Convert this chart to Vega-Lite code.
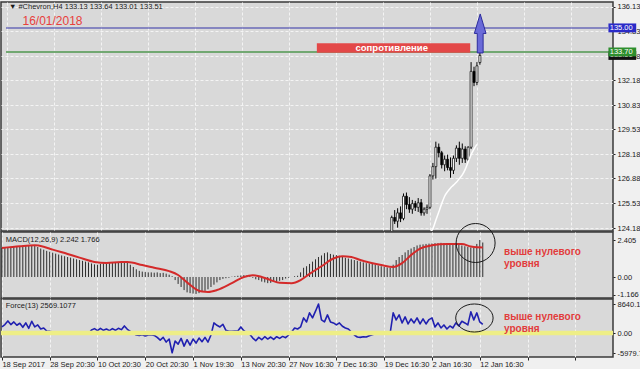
{
  "$schema": "https://vega.github.io/schema/vega-lite/v6.json",
  "background": "#f0f0f0",
  "padding": {"left": 0, "top": 1, "right": 0, "bottom": 0},
  "bounds": "flush",
  "spacing": 1,
  "resolve": {"scale": {"x": "independent", "y": "independent"}},
  "config": {
    "view": {"fill": "#d9d9d9", "stroke": "#3a3a3a", "strokeWidth": 1.5},
    "axis": {"labelFont": "Liberation Sans", "labelFontSize": 7.5, "labelColor": "#1a1a1a", "gridColor": "#f4f4f4", "gridDash": [3, 2], "gridWidth": 1, "tickColor": "#222222", "domain": false, "zindex": 0},
    "text": {"font": "Liberation Sans"}
  },
  "datasets": {
    "candles": [
      {"i":131,"o":123.7,"h":124.85,"l":123.5,"c":124.75},
      {"i":132,"o":124.75,"h":125.15,"l":124.4,"c":124.55},
      {"i":133,"o":124.55,"h":125.25,"l":124.2,"c":125.0},
      {"i":134,"o":125.0,"h":125.35,"l":124.5,"c":124.7},
      {"i":135,"o":124.7,"h":126.05,"l":124.6,"c":125.9},
      {"i":136,"o":125.9,"h":126.1,"l":125.2,"c":125.45},
      {"i":137,"o":125.45,"h":125.85,"l":125.0,"c":125.2},
      {"i":138,"o":125.2,"h":125.7,"l":124.95,"c":125.5},
      {"i":139,"o":125.5,"h":125.65,"l":125.1,"c":125.3},
      {"i":140,"o":125.3,"h":125.8,"l":125.05,"c":125.55},
      {"i":141,"o":125.55,"h":125.75,"l":124.85,"c":125.0},
      {"i":142,"o":125.0,"h":125.3,"l":124.85,"c":125.2},
      {"i":143,"o":125.2,"h":125.45,"l":124.95,"c":125.3},
      {"i":144,"o":125.3,"h":127.1,"l":125.2,"c":127.0},
      {"i":145,"o":127.0,"h":127.7,"l":126.8,"c":127.5},
      {"i":146,"o":127.5,"h":128.85,"l":126.85,"c":128.55},
      {"i":147,"o":128.55,"h":128.75,"l":128.0,"c":128.25},
      {"i":148,"o":128.25,"h":128.35,"l":127.4,"c":127.6},
      {"i":149,"o":127.6,"h":128.1,"l":127.25,"c":127.9},
      {"i":150,"o":127.9,"h":128.15,"l":127.3,"c":127.45},
      {"i":151,"o":127.45,"h":128.0,"l":126.9,"c":127.3},
      {"i":152,"o":127.3,"h":128.1,"l":127.1,"c":127.95},
      {"i":153,"o":127.95,"h":128.65,"l":127.75,"c":128.5},
      {"i":154,"o":128.5,"h":128.85,"l":127.6,"c":127.95},
      {"i":155,"o":127.95,"h":128.75,"l":127.7,"c":128.45},
      {"i":156,"o":128.45,"h":128.6,"l":127.7,"c":127.9},
      {"i":157,"o":127.9,"h":128.6,"l":127.8,"c":128.55},
      {"i":158,"o":128.55,"h":133.15,"l":128.45,"c":132.65},
      {"i":159,"o":132.65,"h":132.9,"l":131.85,"c":132.05},
      {"i":160,"o":132.05,"h":133.15,"l":131.9,"c":132.95},
      {"i":161,"o":133.13,"h":133.64,"l":133.01,"c":133.51}
    ],
    "ma": [
      {"i":143,"v":123.6},{"i":144,"v":123.9},{"i":145,"v":124.15},{"i":146,"v":124.6},{"i":147,"v":125.05},
      {"i":148,"v":125.5},{"i":149,"v":125.9},{"i":150,"v":126.15},{"i":151,"v":126.35},{"i":152,"v":126.5},
      {"i":153,"v":126.65},{"i":154,"v":126.85},{"i":155,"v":127.05},{"i":156,"v":127.35},{"i":157,"v":127.75},
      {"i":158,"v":128.15},{"i":159,"v":128.45},{"i":160,"v":128.7}
    ],
    "macd": [
      {"i":0,"h":1.88},{"i":1,"h":1.9},{"i":2,"h":1.92},{"i":3,"h":1.94},{"i":4,"h":1.96},{"i":5,"h":1.98},{"i":6,"h":2.0},{"i":7,"h":2.02},{"i":8,"h":2.03},{"i":9,"h":2.04},
      {"i":10,"h":2.04},{"i":11,"h":2.02},{"i":12,"h":1.95},{"i":13,"h":1.85},{"i":14,"h":1.78},{"i":15,"h":1.7},{"i":16,"h":1.64},{"i":17,"h":1.58},{"i":18,"h":1.52},{"i":19,"h":1.46},
      {"i":20,"h":1.4},{"i":21,"h":1.35},{"i":22,"h":1.3},{"i":23,"h":1.26},{"i":24,"h":1.2},{"i":25,"h":1.15},{"i":26,"h":1.1},{"i":27,"h":1.05},{"i":28,"h":1.0},{"i":29,"h":0.95},
      {"i":30,"h":0.88},{"i":31,"h":0.82},{"i":32,"h":0.8},{"i":33,"h":0.85},{"i":34,"h":0.9},{"i":35,"h":0.88},{"i":36,"h":0.92},{"i":37,"h":0.95},{"i":38,"h":0.92},{"i":39,"h":0.96},
      {"i":40,"h":1.0},{"i":41,"h":0.98},{"i":42,"h":0.95},{"i":43,"h":0.8},{"i":44,"h":0.65},{"i":45,"h":0.5},{"i":46,"h":0.4},{"i":47,"h":0.35},{"i":48,"h":0.32},{"i":49,"h":0.3},
      {"i":50,"h":0.3},{"i":51,"h":0.28},{"i":52,"h":0.3},{"i":53,"h":0.25},{"i":54,"h":0.27},{"i":55,"h":0.22},{"i":56,"h":0.15},{"i":57,"h":0.05},{"i":58,"h":-0.2},{"i":59,"h":-0.45},
      {"i":60,"h":-0.65},{"i":61,"h":-0.85},{"i":62,"h":-1.0},{"i":63,"h":-1.05},{"i":64,"h":-1.08},{"i":65,"h":-1.1},{"i":66,"h":-1.05},{"i":67,"h":-0.95},{"i":68,"h":-0.9},{"i":69,"h":-0.8},
      {"i":70,"h":-0.65},{"i":71,"h":-0.5},{"i":72,"h":-0.35},{"i":73,"h":-0.2},{"i":74,"h":-0.12},{"i":75,"h":-0.08},{"i":76,"h":-0.05},{"i":77,"h":0.02},{"i":78,"h":0.05},{"i":79,"h":0.08},
      {"i":80,"h":0.1},{"i":81,"h":0.12},{"i":82,"h":0.1},{"i":83,"h":0.05},{"i":84,"h":-0.05},{"i":85,"h":-0.15},{"i":86,"h":-0.2},{"i":87,"h":-0.3},{"i":88,"h":-0.35},{"i":89,"h":-0.4},
      {"i":90,"h":-0.38},{"i":91,"h":-0.3},{"i":92,"h":-0.35},{"i":93,"h":-0.25},{"i":94,"h":-0.2},{"i":95,"h":-0.1},{"i":96,"h":-0.05},{"i":97,"h":0.0},{"i":98,"h":0.05},{"i":99,"h":0.08},
      {"i":100,"h":0.3},{"i":101,"h":0.6},{"i":102,"h":0.7},{"i":103,"h":0.85},{"i":104,"h":1.0},{"i":105,"h":1.15},{"i":106,"h":1.3},{"i":107,"h":1.4},{"i":108,"h":1.55},{"i":109,"h":1.6},
      {"i":110,"h":1.5},{"i":111,"h":1.45},{"i":112,"h":1.42},{"i":113,"h":1.38},{"i":114,"h":1.3},{"i":115,"h":1.25},{"i":116,"h":1.2},{"i":117,"h":1.15},{"i":118,"h":1.1},{"i":119,"h":1.05},
      {"i":120,"h":1.0},{"i":121,"h":0.95},{"i":122,"h":0.9},{"i":123,"h":0.88},{"i":124,"h":0.85},{"i":125,"h":0.8},{"i":126,"h":0.75},{"i":127,"h":0.7},{"i":128,"h":0.65},{"i":129,"h":0.62},
      {"i":130,"h":0.6},{"i":131,"h":0.8},{"i":132,"h":1.1},{"i":133,"h":1.3},{"i":134,"h":1.43},{"i":135,"h":1.6},{"i":136,"h":1.75},{"i":137,"h":1.85},{"i":138,"h":1.95},{"i":139,"h":2.05},
      {"i":140,"h":2.1},{"i":141,"h":2.12},{"i":142,"h":2.15},{"i":143,"h":2.17},{"i":144,"h":2.18},{"i":145,"h":2.2},{"i":146,"h":2.2},{"i":147,"h":2.22},{"i":148,"h":2.2},{"i":149,"h":2.18},
      {"i":150,"h":2.18},{"i":151,"h":2.15},{"i":152,"h":2.12},{"i":153,"h":2.1},{"i":154,"h":2.05},{"i":155,"h":2.0},{"i":156,"h":1.95},{"i":157,"h":1.92},{"i":158,"h":1.9},{"i":159,"h":2.15},
      {"i":160,"h":2.405},{"i":161,"h":2.242}
    ],
    "signal": [
      {"i":0,"s":1.89},{"i":6,"s":2.0},{"i":11,"s":2.06},{"i":14,"s":1.97},{"i":17,"s":1.78},{"i":22,"s":1.5},{"i":26,"s":1.26},{"i":31,"s":0.98},{"i":35,"s":0.91},{"i":40,"s":0.97},
      {"i":42,"s":0.97},{"i":47,"s":0.78},{"i":51,"s":0.6},{"i":56,"s":0.38},{"i":59,"s":0.13},{"i":62,"s":-0.35},{"i":65,"s":-0.8},{"i":67,"s":-0.95},{"i":69,"s":-0.97},{"i":72,"s":-0.85},
      {"i":77,"s":-0.4},{"i":81,"s":0.0},{"i":84,"s":0.12},{"i":87,"s":0.0},{"i":90,"s":-0.2},{"i":93,"s":-0.38},{"i":97,"s":-0.4},{"i":100,"s":-0.2},{"i":103,"s":0.2},{"i":107,"s":0.7},
      {"i":111,"s":1.2},{"i":114,"s":1.35},{"i":117,"s":1.3},{"i":120,"s":1.1},{"i":127,"s":0.78},{"i":131,"s":0.65},{"i":134,"s":0.9},{"i":137,"s":1.43},{"i":140,"s":1.85},{"i":144,"s":2.06},
      {"i":149,"s":2.15},{"i":154,"s":2.15},{"i":157,"s":1.98},{"i":159,"s":1.93},{"i":161,"s":1.92}
    ],
    "force": [
      {"i":0,"f":1800},{"i":1,"f":2500},{"i":2,"f":3600},{"i":3,"f":2500},{"i":4,"f":3300},{"i":5,"f":2300},{"i":6,"f":2900},{"i":7,"f":1700},{"i":8,"f":3000},{"i":9,"f":1400},
      {"i":10,"f":3500},{"i":11,"f":1800},{"i":12,"f":2400},{"i":13,"f":1200},{"i":14,"f":1500},{"i":15,"f":600},{"i":16,"f":500},{"i":17,"f":300},{"i":18,"f":300},{"i":19,"f":250},
      {"i":20,"f":350},{"i":21,"f":200},{"i":22,"f":0},{"i":23,"f":-300},{"i":24,"f":0},{"i":25,"f":200},{"i":26,"f":-200},{"i":27,"f":0},{"i":28,"f":-300},{"i":29,"f":-200},
      {"i":30,"f":900},{"i":31,"f":1300},{"i":32,"f":700},{"i":33,"f":1400},{"i":34,"f":800},{"i":35,"f":1200},{"i":36,"f":700},{"i":37,"f":1300},{"i":38,"f":800},{"i":39,"f":1400},
      {"i":40,"f":1000},{"i":41,"f":2100},{"i":42,"f":1100},{"i":43,"f":500},{"i":44,"f":-100},{"i":45,"f":-600},{"i":46,"f":-700},{"i":47,"f":-500},{"i":48,"f":-900},{"i":49,"f":-600},
      {"i":50,"f":-500},{"i":51,"f":-700},{"i":52,"f":-1300},{"i":53,"f":-2100},{"i":54,"f":-1300},{"i":55,"f":-2700},{"i":56,"f":-1800},{"i":57,"f":-5900},{"i":58,"f":-2400},{"i":59,"f":-3300},
      {"i":60,"f":-1600},{"i":61,"f":-3900},{"i":62,"f":-2000},{"i":63,"f":-3600},{"i":64,"f":-1800},{"i":65,"f":-3000},{"i":66,"f":-1500},{"i":67,"f":-2600},{"i":68,"f":-1300},{"i":69,"f":-2700},
      {"i":70,"f":-600},{"i":71,"f":3000},{"i":72,"f":2300},{"i":73,"f":1800},{"i":74,"f":2600},{"i":75,"f":800},{"i":76,"f":500},{"i":77,"f":500},{"i":78,"f":600},{"i":79,"f":600},
      {"i":80,"f":1800},{"i":81,"f":700},{"i":82,"f":0},{"i":83,"f":-400},{"i":84,"f":-1500},{"i":85,"f":-2300},{"i":86,"f":-1300},{"i":87,"f":-2000},{"i":88,"f":-1100},{"i":89,"f":-1800},
      {"i":90,"f":-1200},{"i":91,"f":-1900},{"i":92,"f":-1100},{"i":93,"f":-1600},{"i":94,"f":-1000},{"i":95,"f":-1400},{"i":96,"f":-600},{"i":97,"f":300},{"i":98,"f":1500},{"i":99,"f":1200},
      {"i":100,"f":1800},{"i":101,"f":4500},{"i":102,"f":3300},{"i":103,"f":6000},{"i":104,"f":4500},{"i":105,"f":6500},{"i":106,"f":8640},{"i":107,"f":3900},{"i":108,"f":3300},{"i":109,"f":5400},
      {"i":110,"f":3300},{"i":111,"f":3000},{"i":112,"f":2400},{"i":113,"f":3000},{"i":114,"f":2000},{"i":115,"f":1500},{"i":116,"f":1200},{"i":117,"f":300},{"i":118,"f":-600},{"i":119,"f":-1200},
      {"i":120,"f":-1300},{"i":121,"f":-1100},{"i":122,"f":-1200},{"i":123,"f":-800},{"i":124,"f":-500},{"i":125,"f":-200},{"i":126,"f":0},{"i":127,"f":200},{"i":128,"f":0},{"i":129,"f":-300},
      {"i":130,"f":0},{"i":131,"f":6000},{"i":132,"f":3900},{"i":133,"f":5400},{"i":134,"f":3000},{"i":135,"f":4800},{"i":136,"f":2700},{"i":137,"f":4200},{"i":138,"f":3000},{"i":139,"f":4500},
      {"i":140,"f":2700},{"i":141,"f":4200},{"i":142,"f":2700},{"i":143,"f":4000},{"i":144,"f":4500},{"i":145,"f":1800},{"i":146,"f":3000},{"i":147,"f":1500},{"i":148,"f":2400},{"i":149,"f":1200},
      {"i":150,"f":2100},{"i":151,"f":1500},{"i":152,"f":3000},{"i":153,"f":2100},{"i":154,"f":3500},{"i":155,"f":3000},{"i":156,"f":2400},{"i":157,"f":6300},{"i":158,"f":3900},{"i":159,"f":6000},
      {"i":160,"f":3300},{"i":161,"f":2569}
    ]
  },
  "vconcat": [
    {
      "width": 612,
      "height": 229,
      "layer": [
        {
          "data": {"name": "candles"},
          "mark": {"type": "rule", "clip": true, "color": "#000000", "strokeWidth": 1},
          "encoding": {
            "x": {"field": "i", "type": "quantitative", "scale": {"domain": [-0.3, 204.6], "nice": false, "zero": false},
                  "axis": {"orient": "bottom", "values": [0,16,32,48,64,80,96,112,128,144,160,176,192], "tickCount": 30, "grid": true, "labels": false, "ticks": false, "domain": false, "title": null}},
            "y": {"field": "l", "type": "quantitative", "scale": {"domain": [124.02, 136.4], "nice": false, "zero": false},
                  "axis": {"orient": "right", "values": [136.13,134.83,133.48,132.18,130.83,129.53,128.18,126.88,125.53,124.18], "tickCount": 30, "format": ".2f", "grid": true, "tickSize": 2, "labelPadding": 2, "labelOverlap": false, "labelBound": false, "labelFlush": false, "domain": false, "title": null, "zindex": 0}},
            "y2": {"field": "h"}
          }
        },
        {
          "data": {"name": "candles"},
          "mark": {"type": "bar", "clip": true, "size": 2, "stroke": "#000000", "strokeWidth": 0.7},
          "encoding": {
            "x": {"field": "i", "type": "quantitative"},
            "y": {"field": "o", "type": "quantitative"},
            "y2": {"field": "c"},
            "color": {"condition": {"test": "datum.c >= datum.o", "value": "#ffffff"}, "value": "#000000"}
          }
        },
        {
          "data": {"name": "ma"},
          "mark": {"type": "line", "clip": true, "color": "#ffffff", "strokeWidth": 1.5, "strokeJoin": "round", "interpolate": "monotone"},
          "encoding": {"x": {"field": "i", "type": "quantitative"}, "y": {"field": "v", "type": "quantitative"}}
        },
        {
          "data": {"values": [{}]},
          "mark": {"type": "rect", "color": "#3434a8"},
          "encoding": {
            "x": {"datum": -0.3, "type": "quantitative"}, "x2": {"datum": 204.6},
            "y": {"datum": 134.973, "type": "quantitative"}, "y2": {"datum": 135.027}
          }
        },
        {
          "data": {"values": [{}]},
          "mark": {"type": "rect", "color": "#72a872"},
          "encoding": {
            "x": {"datum": -0.3, "type": "quantitative"}, "x2": {"datum": 204.6},
            "y": {"datum": 133.646, "type": "quantitative"}, "y2": {"datum": 133.754}
          }
        },
        {
          "data": {"values": [{}]},
          "mark": {"type": "rect", "color": "#e34848"},
          "encoding": {
            "x": {"datum": 105.5, "type": "quantitative"}, "x2": {"datum": 157.7},
            "y": {"datum": 133.66, "type": "quantitative"}, "y2": {"datum": 134.17}
          }
        },
        {
          "data": {"values": [{}]},
          "mark": {"type": "text", "text": "сопротивление", "color": "#ffffff", "fontSize": 9.5, "fontWeight": "bold", "align": "center", "baseline": "middle"},
          "encoding": {"x": {"datum": 131.0, "type": "quantitative"}, "y": {"datum": 133.91, "type": "quantitative"}}
        },
        {
          "data": {"values": [{}]},
          "mark": {"type": "point", "shape": "M0,-1L0.3,0L0.15,0L0.15,1L-0.15,1L-0.15,0L-0.3,0Z", "size": 1521, "filled": true, "fill": "#6a6ad8", "stroke": "#2c2c9c", "strokeWidth": 1, "opacity": 1},
          "encoding": {"x": {"datum": 161.1, "type": "quantitative"}, "y": {"datum": 134.7, "type": "quantitative"}}
        },
        {
          "data": {"values": [{}]},
          "mark": {"type": "text", "text": "▼ #Chevron,H4  133.13 133.64 133.01 133.51", "color": "#1a1a1a", "fontSize": 7.5, "align": "left", "baseline": "middle"},
          "encoding": {"x": {"datum": 0.7, "type": "quantitative"}, "y": {"datum": 136.11, "type": "quantitative"}}
        },
        {
          "data": {"values": [{}]},
          "mark": {"type": "text", "text": "16/01/2018", "color": "#e8403c", "fontSize": 12, "align": "left", "baseline": "middle"},
          "encoding": {"x": {"datum": 5.3, "type": "quantitative"}, "y": {"datum": 135.37, "type": "quantitative"}}
        },
        {
          "data": {"values": [{}]},
          "mark": {"type": "rect", "color": "#111111"},
          "encoding": {
            "x": {"datum": 204.75, "type": "quantitative"}, "x2": {"datum": 214.2},
            "y": {"datum": 133.27, "type": "quantitative"}, "y2": {"datum": 133.75}
          }
        },
        {
          "data": {"values": [{}]},
          "mark": {"type": "text", "text": "133.51", "color": "#ffffff", "fontSize": 7.5, "align": "left", "baseline": "middle"},
          "encoding": {"x": {"datum": 205.2, "type": "quantitative"}, "y": {"datum": 133.51, "type": "quantitative"}}
        },
        {
          "data": {"values": [{}]},
          "mark": {"type": "rect", "color": "#2e8f2e"},
          "encoding": {
            "x": {"datum": 204.75, "type": "quantitative"}, "x2": {"datum": 214.2},
            "y": {"datum": 133.46, "type": "quantitative"}, "y2": {"datum": 133.94}
          }
        },
        {
          "data": {"values": [{}]},
          "mark": {"type": "text", "text": "133.70", "color": "#ffffff", "fontSize": 7.5, "align": "left", "baseline": "middle"},
          "encoding": {"x": {"datum": 205.2, "type": "quantitative"}, "y": {"datum": 133.7, "type": "quantitative"}}
        },
        {
          "data": {"values": [{}]},
          "mark": {"type": "rect", "color": "#2a2ac8"},
          "encoding": {
            "x": {"datum": 204.75, "type": "quantitative"}, "x2": {"datum": 214.2},
            "y": {"datum": 134.76, "type": "quantitative"}, "y2": {"datum": 135.24}
          }
        },
        {
          "data": {"values": [{}]},
          "mark": {"type": "text", "text": "135.00", "color": "#ffffff", "fontSize": 7.5, "align": "left", "baseline": "middle"},
          "encoding": {"x": {"datum": 205.2, "type": "quantitative"}, "y": {"datum": 135.0, "type": "quantitative"}}
        }
      ]
    },
    {
      "width": 612,
      "height": 66,
      "layer": [
        {
          "data": {"name": "macd"},
          "mark": {"type": "rule", "color": "#2e2e2e", "strokeWidth": 1},
          "encoding": {
            "x": {"field": "i", "type": "quantitative", "scale": {"domain": [-0.3, 204.6], "nice": false, "zero": false},
                  "axis": {"orient": "bottom", "values": [0,16,32,48,64,80,96,112,128,144,160,176,192], "tickCount": 30, "grid": true, "labels": false, "ticks": false, "domain": false, "title": null}},
            "y": {"field": "h", "type": "quantitative", "scale": {"domain": [-1.365, 2.925], "nice": false, "zero": false},
                  "axis": {"orient": "right", "values": [2.405, 0, -1.166], "tickCount": 30, "labelExpr": "datum.value > 1 ? '2.405' : (datum.value < 0 ? '-1.166' : '0.00')", "grid": false, "tickSize": 2, "labelPadding": 2, "labelOverlap": false, "labelBound": false, "domain": false, "title": null}},
            "y2": {"datum": 0}
          }
        },
        {
          "data": {"name": "signal"},
          "mark": {"type": "line", "color": "#d42a2a", "strokeWidth": 2, "strokeJoin": "round", "interpolate": "monotone"},
          "encoding": {"x": {"field": "i", "type": "quantitative"}, "y": {"field": "s", "type": "quantitative"}}
        },
        {
          "data": {"values": [{}]},
          "mark": {"type": "point", "shape": "circle", "size": 1521, "filled": false, "color": "#1a1a1a", "strokeWidth": 1, "opacity": 1},
          "encoding": {"x": {"datum": 158.6, "type": "quantitative"}, "y": {"datum": 2.21, "type": "quantitative"}}
        },
        {
          "data": {"values": [{}]},
          "mark": {"type": "text", "text": "MACD(12,26,9) 2.242 1.766", "color": "#1a1a1a", "fontSize": 7.5, "align": "left", "baseline": "middle"},
          "encoding": {"x": {"datum": 1.3, "type": "quantitative"}, "y": {"datum": 2.41, "type": "quantitative"}}
        },
        {
          "data": {"values": [{}]},
          "mark": {"type": "text", "text": ["выше нулевого", "уровня"], "lineHeight": 12, "color": "#e23c3c", "fontSize": 10, "fontWeight": "bold", "align": "left", "baseline": "middle"},
          "encoding": {"x": {"datum": 168.1, "type": "quantitative"}, "y": {"datum": 1.63, "type": "quantitative"}}
        }
      ]
    },
    {
      "width": 612,
      "height": 58,
      "layer": [
        {
          "data": {"name": "force"},
          "mark": {"type": "line", "color": "#2020b0", "strokeWidth": 1.6, "strokeJoin": "round"},
          "encoding": {
            "x": {"field": "i", "type": "quantitative", "scale": {"domain": [-0.3, 204.6], "nice": false, "zero": false},
                  "axis": {"orient": "bottom", "values": [0,16,32,48,64,80,96,112,128,144,160,176,192], "tickCount": 30, "grid": true, "labels": true, "ticks": true, "tickSize": 3, "labelAlign": "left", "labelPadding": 0, "labelOverlap": false, "labelBound": false, "labelFlush": false, "domain": false, "title": null,
                           "labelExpr": "datum.value > 160 ? '' : ['18 Sep 2017','28 Sep 20:30','10 Oct 20:30','20 Oct 20:30','1 Nov 19:30','13 Nov 20:30','27 Nov 16:30','7 Dec 16:30','19 Dec 16:30','2 Jan 16:30','12 Jan 16:30'][round(datum.value / 16)]"}},
            "y": {"field": "f", "type": "quantitative", "scale": {"domain": [-7151, 10131], "nice": false, "zero": false},
                  "axis": {"orient": "right", "values": [8640.113, 0, -5979.75], "tickCount": 30, "labelExpr": "datum.value > 1 ? '8640.113' : (datum.value < 0 ? '-5979.75' : '0.00')", "grid": false, "tickSize": 2, "labelPadding": 2, "labelOverlap": false, "labelBound": false, "domain": false, "title": null}}
          }
        },
        {
          "data": {"values": [{}]},
          "mark": {"type": "rect", "color": "#eeee86"},
          "encoding": {
            "x": {"datum": -0.3, "type": "quantitative"}, "x2": {"datum": 204.6},
            "y": {"datum": -670, "type": "quantitative"}, "y2": {"datum": 670}
          }
        },
        {
          "data": {"values": [{}]},
          "mark": {"type": "point", "shape": "M1,0C1,0.414,0.552,0.75,0,0.75C-0.552,0.75,-1,0.414,-1,0C-1,-0.414,-0.552,-0.75,0,-0.75C0.552,-0.75,1,-0.414,1,0Z", "size": 1399, "filled": false, "color": "#1a1a1a", "strokeWidth": 1, "opacity": 1},
          "encoding": {"x": {"datum": 158.2, "type": "quantitative"}, "y": {"datum": 4470, "type": "quantitative"}}
        },
        {
          "data": {"values": [{}]},
          "mark": {"type": "text", "text": "Force(13) 2569.1077", "color": "#1a1a1a", "fontSize": 7.5, "align": "left", "baseline": "middle"},
          "encoding": {"x": {"datum": 1.3, "type": "quantitative"}, "y": {"datum": 8135, "type": "quantitative"}}
        },
        {
          "data": {"values": [{}]},
          "mark": {"type": "text", "text": ["выше нулевого", "уровня"], "lineHeight": 12, "color": "#e23c3c", "fontSize": 10, "fontWeight": "bold", "align": "left", "baseline": "middle"},
          "encoding": {"x": {"datum": 168.1, "type": "quantitative"}, "y": {"datum": 4860, "type": "quantitative"}}
        }
      ]
    }
  ]
}
